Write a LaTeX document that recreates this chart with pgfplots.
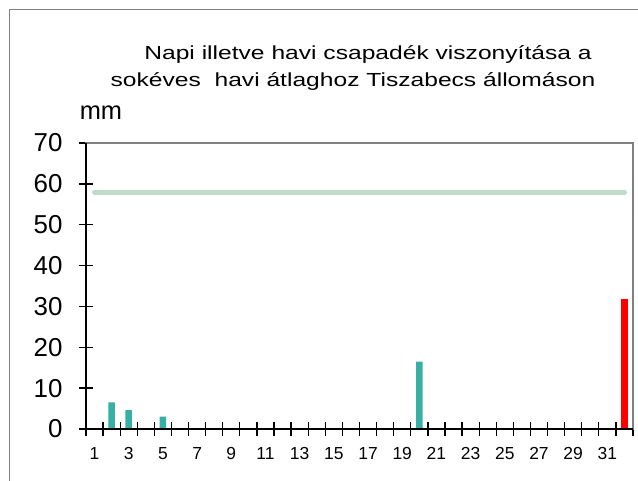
\documentclass[border=0pt]{standalone}
\usepackage{pgfplots}
\pgfplotsset{compat=1.18}
\usepackage{fontspec}
\setmainfont{Liberation Sans}
\newfontfamily\titlefont[FakeStretch=1.3]{Liberation Sans}
\definecolor{barteal}{HTML}{36AFA5}
\definecolor{avgline}{HTML}{BEDAC8}
\definecolor{framegray}{HTML}{808080}
\begin{document}
\begin{tikzpicture}[x=1bp,y=1bp]
\useasboundingbox (-86,-52) rectangle (552,429);
\begin{axis}[
  at={(0,0)}, anchor=south west,
  scale only axis, width=547bp, height=286bp,
  xmin=0.5, xmax=32.5, ymin=0, ymax=70,
  axis line style={framegray, line width=1.5bp},
  xtick={0.5,1.5,...,32.5},
  xticklabels={1,,3,,5,,7,,9,,11,,13,,15,,17,,19,,21,,23,,25,,27,,29,,31,,},
  ytick={0,10,...,70},
  tick style={black, line width=1.3bp},
  major tick length=14bp,
  tick align=center,
  xtick pos=left, ytick pos=left,
  /pgf/number format/assume math mode=true,
  yticklabel style={font=\fontsize{26}{28}\selectfont, anchor=east, xshift=-13bp},
  xticklabel style={font=\fontsize{17.5}{19}\selectfont, anchor=north, xshift=8.55bp, yshift=-7.5bp},
  clip=false,
]
\addplot[line width=5bp, line cap=round, color=avgline] coordinates {(1,58) (32,58)};
\addplot[ybar, bar width=6.5bp, fill=barteal, draw=none] coordinates {(2,6.5) (3,4.6) (5,3.0) (20,16.5)};
\addplot[ybar, bar width=7bp, fill=red, draw=none] coordinates {(32,31.8)};
\end{axis}
\draw[black, line width=1.5bp] (0,286) -- (0,0) -- (547,0);
\draw[framegray, line width=1bp] (-76,-60) -- (-76,419) -- (560,419);
\node[font=\titlefont\fontsize{19}{22}\selectfont] at (282,374) {Napi illetve havi csapadék viszonyítása a};
\node[font=\titlefont\fontsize{19}{22}\selectfont] at (267,347) {sokéves\ \ havi átlaghoz Tiszabecs állomáson};
\node[font=\fontsize{25.5}{28}\selectfont] at (15,316) {mm};
\end{tikzpicture}
\end{document}
